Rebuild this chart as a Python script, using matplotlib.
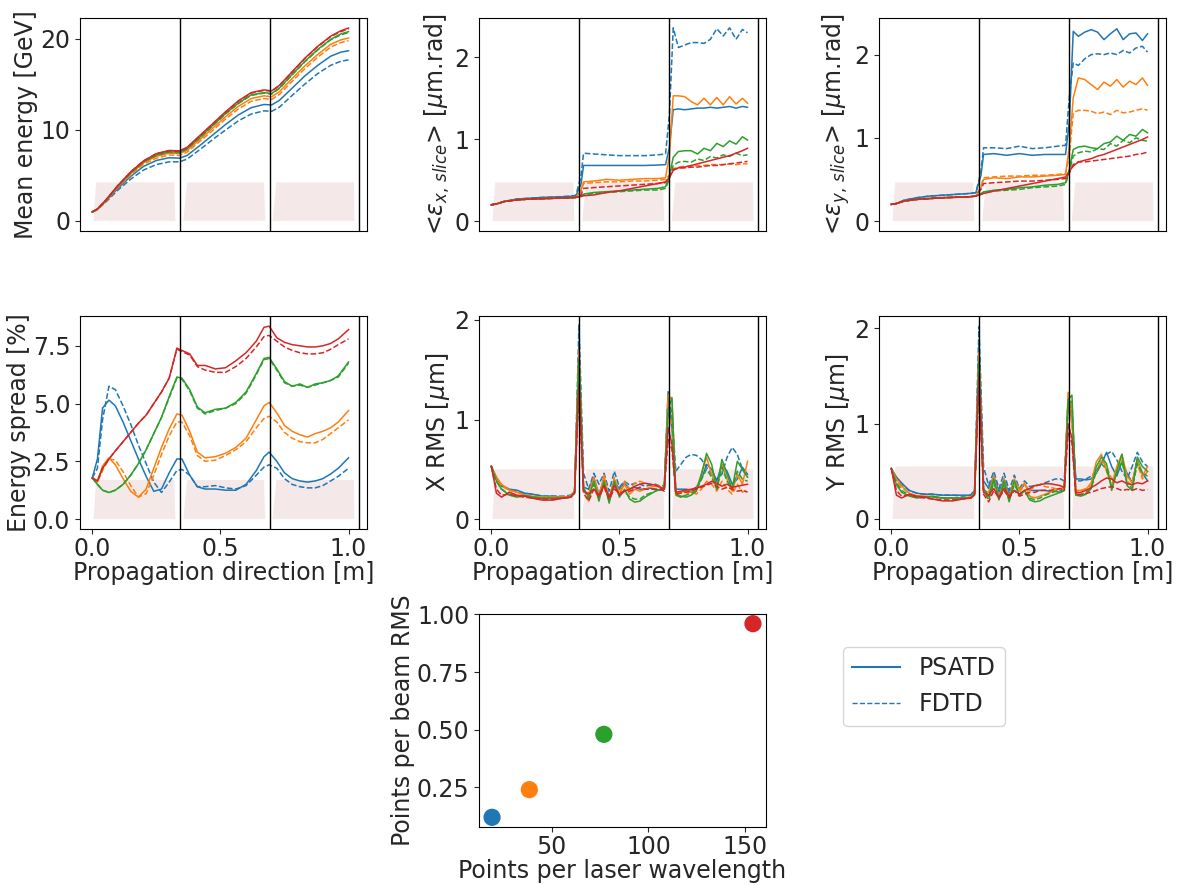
import numpy as np
import matplotlib.pyplot as plt
from matplotlib.lines import Line2D

# ---- data ----
colors = ['#1f77b4', '#ff7f0e', '#2ca02c', '#d62728']

# plasma stages (trapezoid x corners) and lens positions
stage_x = [[0.005, 0.015, 0.320, 0.324],
           [0.355, 0.370, 0.670, 0.675],
           [0.704, 0.718, 1.021, 1.023]]
lens_x = [0.342, 0.692, 1.039]

x_energy = [0.0, 0.02, 0.05, 0.1, 0.15, 0.2, 0.25, 0.3, 0.34, 0.37, 0.42, 0.47,
            0.52, 0.57, 0.62, 0.67, 0.70, 0.73, 0.78, 0.83, 0.88, 0.93, 0.97, 1.0]
energy_psatd = [
    [1.0, 1.3, 2.1, 3.6, 4.9, 6.0, 6.65, 6.95, 6.9, 7.2, 8.3, 9.45, 10.6, 11.65, 12.45, 12.8, 12.75, 13.25, 14.6, 15.95, 17.1, 18.1, 18.55, 18.7],
    [1.0, 1.3, 2.15, 3.8, 5.2, 6.4, 7.1, 7.45, 7.4, 7.75, 8.95, 10.2, 11.45, 12.6, 13.45, 13.75, 13.65, 14.2, 15.65, 17.05, 18.3, 19.4, 19.9, 20.1],
    [1.0, 1.3, 2.2, 3.85, 5.3, 6.5, 7.25, 7.6, 7.55, 7.95, 9.2, 10.5, 11.8, 12.95, 13.85, 14.1, 14.0, 14.6, 16.1, 17.55, 18.85, 19.95, 20.55, 20.8],
    [1.0, 1.3, 2.2, 3.9, 5.4, 6.6, 7.4, 7.75, 7.7, 8.1, 9.4, 10.7, 12.0, 13.2, 14.1, 14.4, 14.3, 14.9, 16.4, 17.9, 19.2, 20.3, 20.9, 21.2],
]
energy_fdtd = [
    [1.0, 1.3, 2.0, 3.4, 4.6, 5.6, 6.2, 6.5, 6.5, 6.8, 7.85, 8.95, 10.0, 11.0, 11.75, 12.1, 12.05, 12.5, 13.8, 15.05, 16.2, 17.1, 17.55, 17.7],
    [1.0, 1.3, 2.1, 3.7, 5.05, 6.25, 6.9, 7.25, 7.2, 7.55, 8.75, 9.95, 11.2, 12.3, 13.15, 13.45, 13.35, 13.9, 15.35, 16.75, 18.0, 19.1, 19.6, 19.8],
    [1.0, 1.3, 2.2, 3.85, 5.3, 6.5, 7.2, 7.55, 7.5, 7.9, 9.15, 10.45, 11.75, 12.9, 13.8, 14.05, 13.95, 14.55, 16.05, 17.5, 18.8, 19.9, 20.45, 20.7],
    [1.0, 1.3, 2.2, 3.9, 5.4, 6.6, 7.4, 7.7, 7.65, 8.05, 9.35, 10.65, 11.95, 13.15, 14.05, 14.35, 14.25, 14.85, 16.35, 17.85, 19.15, 20.25, 20.8, 21.1],
]

x_emit = [0.0, 0.02, 0.05, 0.1, 0.15, 0.2, 0.25, 0.3, 0.33, 0.35, 0.36, 0.4, 0.45,
          0.5, 0.55, 0.6, 0.65, 0.68, 0.695, 0.71, 0.73, 0.755, 0.78, 0.805, 0.83,
          0.855, 0.88, 0.905, 0.93, 0.955, 0.98, 1.0]
emitx_psatd = [
    [0.2, 0.21, 0.24, 0.27, 0.28, 0.29, 0.295, 0.30, 0.31, 0.45, 0.68, 0.68, 0.68, 0.68, 0.68, 0.68, 0.685, 0.69,
     0.9, 1.36, 1.37, 1.36, 1.37, 1.38, 1.38, 1.39, 1.38, 1.39, 1.40, 1.38, 1.40, 1.39],
    [0.2, 0.21, 0.24, 0.26, 0.27, 0.275, 0.28, 0.285, 0.29, 0.38, 0.48, 0.49, 0.51, 0.50, 0.51, 0.52, 0.52, 0.53,
     0.8, 1.53, 1.53, 1.52, 1.46, 1.42, 1.50, 1.42, 1.51, 1.42, 1.52, 1.43, 1.50, 1.44],
    [0.2, 0.21, 0.24, 0.26, 0.27, 0.275, 0.28, 0.285, 0.29, 0.31, 0.33, 0.35, 0.36, 0.37, 0.38, 0.39, 0.40, 0.42,
     0.55, 0.78, 0.85, 0.86, 0.86, 0.82, 0.89, 0.86, 0.95, 0.91, 0.98, 0.94, 1.03, 0.99],
    [0.2, 0.21, 0.24, 0.26, 0.27, 0.275, 0.28, 0.285, 0.29, 0.30, 0.31, 0.32, 0.35, 0.37, 0.40, 0.43, 0.46, 0.48,
     0.53, 0.62, 0.65, 0.66, 0.68, 0.70, 0.72, 0.74, 0.76, 0.78, 0.80, 0.83, 0.86, 0.89],
]
emitx_fdtd = [
    [0.2, 0.21, 0.24, 0.27, 0.28, 0.29, 0.295, 0.305, 0.315, 0.55, 0.83, 0.82, 0.81, 0.80, 0.80, 0.80, 0.81, 0.82,
     1.3, 2.36, 2.12, 2.15, 2.18, 2.18, 2.17, 2.22, 2.35, 2.26, 2.36, 2.22, 2.34, 2.30],
    [0.2, 0.21, 0.24, 0.26, 0.27, 0.275, 0.28, 0.285, 0.29, 0.36, 0.46, 0.47, 0.48, 0.48, 0.49, 0.49, 0.50, 0.51,
     0.56, 0.64, 0.66, 0.67, 0.67, 0.68, 0.68, 0.69, 0.69, 0.69, 0.70, 0.69, 0.70, 0.70],
    [0.2, 0.21, 0.24, 0.26, 0.27, 0.275, 0.28, 0.285, 0.29, 0.31, 0.32, 0.34, 0.35, 0.36, 0.37, 0.38, 0.38, 0.40,
     0.52, 0.68, 0.72, 0.73, 0.72, 0.76, 0.74, 0.79, 0.77, 0.81, 0.79, 0.83, 0.80, 0.81],
    [0.2, 0.21, 0.24, 0.26, 0.27, 0.275, 0.28, 0.285, 0.29, 0.32, 0.40, 0.41, 0.42, 0.43, 0.44, 0.45, 0.46, 0.47,
     0.55, 0.63, 0.65, 0.65, 0.66, 0.66, 0.67, 0.68, 0.68, 0.69, 0.70, 0.71, 0.72, 0.73],
]
emity_psatd = [
    [0.2, 0.21, 0.25, 0.28, 0.30, 0.31, 0.32, 0.33, 0.34, 0.55, 0.80, 0.81, 0.79, 0.81, 0.79, 0.80, 0.80, 0.80,
     1.2, 2.28, 2.22, 2.27, 2.30, 2.27, 2.18, 2.25, 2.31, 2.18, 2.25, 2.26, 2.17, 2.25],
    [0.2, 0.21, 0.24, 0.26, 0.27, 0.28, 0.285, 0.29, 0.30, 0.40, 0.50, 0.52, 0.51, 0.53, 0.53, 0.54, 0.55, 0.56,
     0.9, 1.48, 1.72, 1.70, 1.64, 1.58, 1.67, 1.62, 1.70, 1.61, 1.68, 1.64, 1.72, 1.63],
    [0.2, 0.21, 0.24, 0.26, 0.27, 0.28, 0.285, 0.29, 0.30, 0.33, 0.35, 0.37, 0.38, 0.40, 0.41, 0.43, 0.44, 0.46,
     0.62, 0.86, 0.89, 0.90, 0.88, 0.87, 0.93, 0.95, 1.02, 0.97, 1.04, 1.02, 1.10, 1.06],
    [0.2, 0.21, 0.24, 0.26, 0.27, 0.28, 0.285, 0.29, 0.30, 0.32, 0.33, 0.36, 0.39, 0.42, 0.45, 0.48, 0.51, 0.53,
     0.60, 0.66, 0.71, 0.73, 0.75, 0.78, 0.80, 0.83, 0.86, 0.89, 0.92, 0.95, 0.98, 1.01],
]
emity_fdtd = [
    [0.2, 0.21, 0.25, 0.28, 0.30, 0.31, 0.32, 0.33, 0.34, 0.6, 0.88, 0.88, 0.87, 0.90, 0.87, 0.88, 0.90, 0.91,
     1.5, 1.90, 1.87, 1.95, 2.00, 2.01, 2.00, 2.02, 2.00, 2.05, 2.02, 2.08, 2.10, 2.03],
    [0.2, 0.21, 0.24, 0.26, 0.27, 0.28, 0.285, 0.29, 0.30, 0.42, 0.52, 0.53, 0.54, 0.54, 0.55, 0.55, 0.56, 0.57,
     0.8, 1.30, 1.33, 1.33, 1.32, 1.29, 1.31, 1.28, 1.33, 1.30, 1.31, 1.33, 1.35, 1.33],
    [0.2, 0.21, 0.24, 0.26, 0.27, 0.28, 0.285, 0.29, 0.30, 0.32, 0.34, 0.36, 0.37, 0.38, 0.40, 0.41, 0.42, 0.44,
     0.60, 0.78, 0.82, 0.84, 0.83, 0.87, 0.86, 0.93, 0.90, 0.97, 0.94, 1.00, 0.97, 0.96],
    [0.2, 0.21, 0.24, 0.26, 0.27, 0.28, 0.285, 0.29, 0.30, 0.38, 0.45, 0.46, 0.47, 0.48, 0.48, 0.49, 0.50, 0.51,
     0.58, 0.68, 0.71, 0.71, 0.72, 0.73, 0.74, 0.75, 0.76, 0.77, 0.78, 0.80, 0.81, 0.83],
]

x_spread = [0.0, 0.02, 0.04, 0.065, 0.09, 0.12, 0.15, 0.18, 0.21, 0.24, 0.27, 0.3, 0.33,
            0.35, 0.38, 0.41, 0.44, 0.48, 0.52, 0.56, 0.6, 0.64, 0.67, 0.69, 0.72, 0.75,
            0.78, 0.81, 0.84, 0.87, 0.9, 0.93, 0.96, 1.0]
spread_psatd = [
    [1.78, 2.6, 4.8, 5.15, 4.9, 4.2, 3.4, 2.6, 1.85, 1.2, 1.3, 2.0, 2.6, 2.6, 1.9, 1.4, 1.3, 1.3, 1.25, 1.25,
     1.5, 2.1, 2.7, 2.9, 2.5, 2.0, 1.75, 1.65, 1.6, 1.65, 1.75, 1.95, 2.2, 2.65],
    [1.78, 1.6, 2.3, 2.65, 2.35, 1.75, 1.2, 0.95, 1.3, 2.2, 3.1, 3.9, 4.55, 4.5, 3.8, 2.9, 2.65, 2.7, 2.85, 3.1,
     3.5, 4.3, 4.9, 5.05, 4.6, 4.05, 3.8, 3.65, 3.55, 3.7, 3.8, 3.95, 4.2, 4.7],
    [1.78, 1.5, 1.25, 1.15, 1.25, 1.5, 1.9, 2.4, 3.0, 3.7, 4.4, 5.3, 6.15, 6.1, 5.6, 4.85, 4.6, 4.75, 4.8, 5.05,
     5.5, 6.3, 6.95, 7.0, 6.5, 5.95, 5.75, 5.85, 5.7, 5.85, 5.9, 6.0, 6.2, 6.8],
    [1.78, 1.65, 2.2, 2.6, 2.95, 3.35, 3.75, 4.15, 4.5, 5.0, 5.5, 6.1, 7.4, 7.3, 7.15, 6.65, 6.65, 6.5, 6.55, 6.85,
     7.2, 7.7, 8.3, 8.35, 7.85, 7.65, 7.55, 7.5, 7.45, 7.45, 7.5, 7.6, 7.8, 8.2],
]
spread_fdtd = [
    [1.78, 2.2, 4.3, 5.75, 5.6, 4.9, 4.1, 3.2, 2.4, 1.6, 1.15, 1.6, 2.1, 2.15, 1.9, 1.4, 1.4, 1.45, 1.35, 1.3,
     1.45, 1.9, 2.25, 2.35, 2.2, 1.75, 1.5, 1.4, 1.35, 1.35, 1.45, 1.65, 1.85, 2.2],
    [1.78, 1.6, 2.1, 2.6, 2.55, 2.05, 1.45, 0.95, 1.1, 1.9, 2.8, 3.6, 4.2, 4.2, 3.6, 2.75, 2.5, 2.55, 2.75, 3.0,
     3.35, 3.95, 4.35, 4.45, 4.2, 3.75, 3.5, 3.35, 3.3, 3.3, 3.45, 3.7, 3.95, 4.3],
    [1.78, 1.5, 1.25, 1.15, 1.25, 1.5, 1.9, 2.4, 3.0, 3.7, 4.4, 5.25, 6.1, 6.05, 5.55, 4.8, 4.55, 4.7, 4.8, 5.0,
     5.45, 6.25, 6.9, 6.95, 6.45, 5.9, 5.75, 5.8, 5.7, 5.8, 5.9, 6.0, 6.15, 6.75],
    [1.78, 1.65, 2.2, 2.6, 2.95, 3.35, 3.75, 4.15, 4.5, 5.0, 5.5, 6.1, 7.35, 7.25, 7.1, 6.6, 6.45, 6.35, 6.35, 6.6,
     6.95, 7.45, 7.9, 7.95, 7.7, 7.45, 7.3, 7.2, 7.15, 7.15, 7.2, 7.35, 7.55, 7.8],
]

x_rms = [0.0, 0.02, 0.04, 0.07, 0.1, 0.13, 0.16, 0.2, 0.24, 0.28, 0.31, 0.325, 0.342,
         0.36, 0.38, 0.40, 0.42, 0.44, 0.46, 0.48, 0.50, 0.52, 0.54, 0.56, 0.58, 0.60,
         0.62, 0.64, 0.66, 0.675, 0.69, 0.705, 0.72, 0.74, 0.76, 0.78, 0.80, 0.82, 0.84,
         0.86, 0.88, 0.90, 0.92, 0.94, 0.96, 0.98, 1.0]
rmsx_psatd = [
    [0.53, 0.42, 0.33, 0.30, 0.29, 0.26, 0.25, 0.23, 0.23, 0.22, 0.23, 0.28, 1.75,
     0.32, 0.30, 0.42, 0.25, 0.40, 0.22, 0.38, 0.30, 0.36, 0.30, 0.32, 0.30, 0.30, 0.31, 0.30, 0.29, 0.30,
     1.28, 0.90, 0.30, 0.30, 0.30, 0.29, 0.32, 0.40, 0.55, 0.50, 0.38, 0.55, 0.48, 0.35, 0.40, 0.52, 0.45],
    [0.53, 0.42, 0.35, 0.29, 0.27, 0.24, 0.23, 0.22, 0.22, 0.22, 0.23, 0.28, 1.70,
     0.28, 0.26, 0.42, 0.22, 0.44, 0.20, 0.40, 0.25, 0.35, 0.25, 0.30, 0.28, 0.30, 0.32, 0.33, 0.32, 0.30,
     1.25, 1.20, 0.26, 0.27, 0.28, 0.27, 0.30, 0.45, 0.62, 0.45, 0.30, 0.55, 0.40, 0.28, 0.45, 0.35, 0.58],
    [0.53, 0.38, 0.30, 0.24, 0.22, 0.24, 0.22, 0.21, 0.21, 0.21, 0.22, 0.27, 1.60,
     0.30, 0.22, 0.38, 0.18, 0.38, 0.16, 0.38, 0.22, 0.30, 0.20, 0.17, 0.18, 0.22, 0.25, 0.28, 0.30, 0.32,
     1.10, 1.22, 0.25, 0.23, 0.22, 0.24, 0.28, 0.45, 0.66, 0.55, 0.30, 0.60, 0.45, 0.30, 0.58, 0.50, 0.42],
    [0.53, 0.26, 0.22, 0.27, 0.24, 0.23, 0.21, 0.19, 0.19, 0.21, 0.22, 0.26, 1.35,
     0.28, 0.25, 0.30, 0.24, 0.34, 0.22, 0.34, 0.24, 0.28, 0.30, 0.33, 0.35, 0.36, 0.35, 0.34, 0.32, 0.30,
     0.92, 0.75, 0.27, 0.28, 0.29, 0.30, 0.31, 0.33, 0.35, 0.38, 0.36, 0.33, 0.35, 0.32, 0.33, 0.34, 0.35],
]
rmsx_fdtd = [
    [0.53, 0.40, 0.34, 0.30, 0.28, 0.26, 0.25, 0.23, 0.23, 0.23, 0.24, 0.28, 1.95,
     0.46, 0.30, 0.46, 0.35, 0.46, 0.28, 0.48, 0.32, 0.38, 0.34, 0.36, 0.35, 0.33, 0.34, 0.35, 0.33, 0.34,
     1.25, 1.05, 0.48, 0.55, 0.62, 0.65, 0.64, 0.60, 0.52, 0.45, 0.40, 0.45, 0.62, 0.72, 0.65, 0.50, 0.42],
    [0.53, 0.40, 0.33, 0.29, 0.27, 0.24, 0.23, 0.22, 0.22, 0.22, 0.23, 0.27, 1.70,
     0.30, 0.18, 0.40, 0.25, 0.38, 0.18, 0.42, 0.26, 0.38, 0.30, 0.36, 0.38, 0.36, 0.35, 0.34, 0.33, 0.32,
     1.10, 0.95, 0.24, 0.22, 0.25, 0.28, 0.25, 0.30, 0.38, 0.35, 0.28, 0.38, 0.30, 0.25, 0.35, 0.27, 0.30],
    [0.53, 0.38, 0.30, 0.25, 0.23, 0.23, 0.22, 0.21, 0.21, 0.21, 0.22, 0.27, 1.60,
     0.32, 0.20, 0.35, 0.22, 0.34, 0.18, 0.33, 0.24, 0.28, 0.22, 0.20, 0.20, 0.24, 0.26, 0.28, 0.30, 0.30,
     1.05, 1.10, 0.24, 0.22, 0.24, 0.26, 0.28, 0.40, 0.50, 0.42, 0.30, 0.52, 0.38, 0.30, 0.48, 0.40, 0.38],
    [0.53, 0.30, 0.24, 0.25, 0.23, 0.22, 0.21, 0.20, 0.20, 0.21, 0.22, 0.26, 1.30,
     0.26, 0.18, 0.30, 0.22, 0.32, 0.20, 0.30, 0.26, 0.28, 0.28, 0.30, 0.32, 0.30, 0.30, 0.30, 0.30, 0.28,
     0.80, 0.70, 0.25, 0.26, 0.27, 0.28, 0.30, 0.32, 0.34, 0.36, 0.33, 0.30, 0.32, 0.30, 0.28, 0.29, 0.27],
]
rmsy_psatd = [
    [0.53, 0.44, 0.38, 0.30, 0.27, 0.26, 0.26, 0.25, 0.25, 0.25, 0.25, 0.30, 1.85,
     0.40, 0.32, 0.45, 0.28, 0.42, 0.26, 0.40, 0.30, 0.36, 0.30, 0.30, 0.30, 0.30, 0.29, 0.29, 0.28, 0.30,
     1.20, 1.05, 0.42, 0.42, 0.41, 0.42, 0.48, 0.58, 0.70, 0.55, 0.45, 0.60, 0.48, 0.38, 0.62, 0.48, 0.40],
    [0.53, 0.42, 0.35, 0.27, 0.24, 0.24, 0.23, 0.22, 0.22, 0.22, 0.23, 0.28, 1.70,
     0.30, 0.28, 0.45, 0.22, 0.42, 0.22, 0.42, 0.30, 0.38, 0.24, 0.22, 0.24, 0.26, 0.28, 0.30, 0.32, 0.33,
     1.33, 1.10, 0.30, 0.30, 0.31, 0.38, 0.60, 0.68, 0.50, 0.35, 0.55, 0.68, 0.45, 0.38, 0.62, 0.45, 0.55],
    [0.53, 0.36, 0.28, 0.24, 0.22, 0.23, 0.24, 0.22, 0.22, 0.22, 0.22, 0.27, 1.65,
     0.32, 0.24, 0.42, 0.20, 0.40, 0.18, 0.40, 0.24, 0.30, 0.20, 0.18, 0.19, 0.22, 0.24, 0.26, 0.28, 0.30,
     1.25, 1.30, 0.25, 0.24, 0.26, 0.32, 0.55, 0.65, 0.58, 0.30, 0.50, 0.68, 0.35, 0.30, 0.65, 0.55, 0.50],
    [0.53, 0.25, 0.22, 0.26, 0.24, 0.23, 0.21, 0.19, 0.19, 0.21, 0.22, 0.25, 1.50,
     0.28, 0.25, 0.32, 0.22, 0.32, 0.24, 0.30, 0.26, 0.30, 0.32, 0.35, 0.36, 0.37, 0.37, 0.36, 0.35, 0.33,
     1.00, 0.85, 0.27, 0.28, 0.30, 0.33, 0.36, 0.40, 0.43, 0.42, 0.38, 0.40, 0.37, 0.36, 0.38, 0.37, 0.40],
]
rmsy_fdtd = [
    [0.53, 0.42, 0.36, 0.30, 0.27, 0.26, 0.26, 0.25, 0.25, 0.24, 0.25, 0.30, 2.02,
     0.55, 0.35, 0.50, 0.32, 0.48, 0.30, 0.46, 0.32, 0.40, 0.34, 0.35, 0.36, 0.38, 0.40, 0.42, 0.42, 0.40,
     1.25, 1.15, 0.40, 0.40, 0.42, 0.45, 0.50, 0.60, 0.68, 0.71, 0.62, 0.50, 0.42, 0.55, 0.70, 0.60, 0.55],
    [0.53, 0.40, 0.33, 0.27, 0.24, 0.24, 0.23, 0.22, 0.22, 0.22, 0.23, 0.27, 1.75,
     0.32, 0.22, 0.40, 0.24, 0.38, 0.20, 0.40, 0.28, 0.36, 0.30, 0.34, 0.36, 0.34, 0.33, 0.32, 0.30, 0.30,
     1.25, 1.00, 0.28, 0.30, 0.32, 0.35, 0.50, 0.62, 0.55, 0.42, 0.50, 0.62, 0.40, 0.35, 0.58, 0.42, 0.50],
    [0.53, 0.38, 0.30, 0.25, 0.23, 0.23, 0.23, 0.22, 0.22, 0.22, 0.22, 0.27, 1.60,
     0.30, 0.20, 0.38, 0.22, 0.36, 0.20, 0.36, 0.26, 0.30, 0.22, 0.20, 0.22, 0.25, 0.27, 0.29, 0.30, 0.30,
     1.20, 1.25, 0.26, 0.25, 0.28, 0.32, 0.50, 0.58, 0.52, 0.33, 0.48, 0.60, 0.38, 0.32, 0.58, 0.48, 0.45],
    [0.53, 0.30, 0.24, 0.25, 0.23, 0.22, 0.21, 0.20, 0.20, 0.21, 0.22, 0.25, 1.45,
     0.26, 0.18, 0.30, 0.22, 0.30, 0.22, 0.30, 0.24, 0.26, 0.28, 0.28, 0.30, 0.30, 0.30, 0.31, 0.32, 0.30,
     0.90, 0.80, 0.25, 0.26, 0.27, 0.28, 0.30, 0.32, 0.33, 0.34, 0.32, 0.30, 0.31, 0.30, 0.32, 0.30, 0.31],
]

points_per_lambda = [19.25, 38.5, 77, 154]
points_per_rms = [0.12, 0.24, 0.48, 0.96]

# ---- style ----
text_c = '#262626'
plt.rcParams['font.family'] = ['DejaVu Sans']
plt.rcParams['mathtext.fontset'] = 'dejavusans'
plt.rcParams['font.size'] = 17
plt.rcParams['text.color'] = text_c
plt.rcParams['axes.labelcolor'] = text_c
plt.rcParams['xtick.color'] = text_c
plt.rcParams['ytick.color'] = text_c
plt.rcParams['xtick.major.pad'] = 2.5

W, H = 1185, 885
fig = plt.figure(figsize=(W / 100, H / 100), dpi=100)


def rect(left, top, w=287, h=213):
    return [left / W, 1 - (top + h) / H, w / W, h / H]


panels = [
    (x_energy, energy_psatd, energy_fdtd, 'Mean energy [GeV]', [0, 10, 20], ['0', '10', '20'], (-1.1, 22.3), 4.24),
    (x_emit, emitx_psatd, emitx_fdtd, r'<$\epsilon_{x,\,slice}$> [$\mu$m.rad]', [0, 1, 2], ['0', '1', '2'], (-0.12, 2.48), 0.472),
    (x_emit, emity_psatd, emity_fdtd, r'<$\epsilon_{y,\,slice}$> [$\mu$m.rad]', [0, 1, 2], ['0', '1', '2'], (-0.12, 2.44), 0.464),
    (x_spread, spread_psatd, spread_fdtd, 'Energy spread [%]', [0, 2.5, 5, 7.5], ['0.0', '2.5', '5.0', '7.5'], (-0.43, 8.79), 1.69),
    (x_rms, rmsx_psatd, rmsx_fdtd, r'X RMS [$\mu$m]', [0, 1, 2], ['0', '1', '2'], (-0.10, 2.04), 0.50),
    (x_rms, rmsy_psatd, rmsy_fdtd, r'Y RMS [$\mu$m]', [0, 1, 2], ['0', '1', '2'], (-0.105, 2.13), 0.55),
]
lefts = [80, 479, 879]
tops = [18, 316]

for i, (xs, sol, dash, ylab, yt, ytl, ylim, ftop) in enumerate(panels):
    ax = fig.add_axes(rect(lefts[i % 3], tops[i // 3]))
    # plasma stage profiles
    for sx in stage_x:
        ax.fill(sx, [0, ftop, ftop, 0], color='#f5e8e8', lw=0, zorder=0)
    for c, ys, yd in zip(colors, sol, dash):
        ax.plot(xs, ys, color=c, lw=1.1)
        ax.plot(xs, yd, color=c, lw=1.1, ls='--')
    for lx in lens_x:
        ax.axvline(lx, color='k', lw=1)
    ax.set_xlim(-0.048, 1.072)
    ax.set_ylim(*ylim)
    ax.set_yticks(yt)
    ax.set_yticklabels(ytl)
    ax.set_ylabel(ylab, labelpad=1.5)
    if i < 3:
        ax.tick_params(bottom=False, labelbottom=False)
    else:
        ax.set_xticks([0, 0.5, 1.0])
        ax.set_xticklabels(['0.0', '0.5', '1.0'])
        ax.set_xlabel('Propagation direction [m]', labelpad=0)

ax = fig.add_axes(rect(479, 614))
ax.scatter(points_per_lambda, points_per_rms, c=colors, s=130, zorder=3)
ax.set_xticks([50, 100, 150])
ax.set_yticks([0.25, 0.5, 0.75, 1.0])
ax.set_yticklabels(['0.25', '0.50', '0.75', '1.00'])
ax.set_xlabel('Points per laser wavelength', labelpad=0)
ax.set_ylabel('Points per beam RMS', labelpad=1.5)

handles = [Line2D([], [], color=colors[0], lw=1.5),
           Line2D([], [], color=colors[0], lw=1.0, ls='--')]
fig.legend(handles, ['PSATD', 'FDTD'], loc='upper left', borderaxespad=0,
           bbox_to_anchor=(843 / W, 1 - 647 / H), fontsize=17)

fig.savefig('out.png', dpi=100)
